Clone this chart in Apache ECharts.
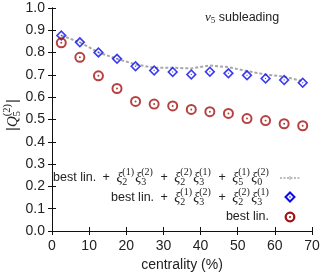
<!DOCTYPE html>
<html><head><meta charset="utf-8">
<script src="https://cdn.jsdelivr.net/npm/echarts@6/dist/echarts.min.js"></script>
<style>html,body{margin:0;padding:0;background:#fff}#c{width:324px;height:277px}</style>
</head><body><div id="c"></div>
<script>
const centrality = [2.5,7.5,12.5,17.5,22.5,27.5,32.5,37.5,42.5,47.5,52.5,57.5,62.5,67.5];
const fullLin =   [0.877,0.846,0.801,0.772,0.747,0.732,0.732,0.729,0.742,0.735,0.717,0.702,0.692,0.672];
const twoTerms =  [0.877,0.846,0.801,0.772,0.739,0.720,0.713,0.702,0.714,0.707,0.698,0.684,0.677,0.665];
const bestLin =   [0.844,0.779,0.696,0.639,0.581,0.569,0.561,0.545,0.535,0.527,0.504,0.495,0.481,0.472];
const xTicks = [0,10,20,30,40,50,60,70];
const yTicks = [0.0,0.1,0.2,0.3,0.4,0.5,0.6,0.7,0.8,0.9,1.0];

const SANS = '"Liberation Sans", Arial, sans-serif';
const SERIF = '"Liberation Serif", "DejaVu Serif", serif';
const TXT = '#222';
const BLUE = '#0b0bee';
const RED = '#a21212';
const GRAY = '#a8a8a8';

const cv = document.createElement('canvas').getContext('2d');
function mw(t, f){ cv.font = f; return cv.measureText(t).width; }

function layoutLine(parts, align, opts){
  const items = [];
  let total = 0;
  const widths = parts.map(p => {
    if (p.t !== undefined) return mw(p.t, p.f) + 2*(p.pad||0);
    const wb = mw(p.b, p.bf);
    const ws = Math.max(p.sub ? mw(p.sub, p.sf) : 0, p.sup ? mw(p.sup, p.sf) : 0);
    return wb + ws + (p.after||0);
  });
  widths.forEach(w => total += w);
  let x = align === 'right' ? -total : (align === 'center' ? -total/2 : 0);
  parts.forEach((p, i) => {
    if (p.t !== undefined) {
      items.push({type:'text', x:x+(p.pad||0), y:0, style:{text:p.t, font:p.f, fill:TXT, align:'left', verticalAlign:'middle'}});
    } else {
      const wb = mw(p.b, p.bf);
      items.push({type:'text', x:x, y:0, style:{text:p.b, font:p.bf, fill:TXT, align:'left', verticalAlign:'middle'}});
      if (p.sup) items.push({type:'text', x:x+wb+(p.supDx||0), y:opts.supDy, style:{text:p.sup, font:p.sf, fill:TXT, align:'left', verticalAlign:'middle'}});
      if (p.sub) items.push({type:'text', x:x+wb, y:opts.subDy, style:{text:p.sub, font:p.sf, fill:TXT, align:'left', verticalAlign:'middle'}});
    }
    x += widths[i];
  });
  return items;
}

const LF = '12.5px ' + SANS;
const XF = 'italic 14px ' + SERIF;
const SF = '10px ' + SERIF;
function xi(sub, sup){ return {b:'\u03BE', bf:XF, sub:sub, sup:sup, sf:SF, after:1.2}; }
const plus = {t:' + ', f:LF, pad:3};

const row1 = [{t:'best lin.', f:LF}, plus, xi('2','(1)'), xi('3','(2)'), plus, xi('2','(2)'), xi('3','(1)'), plus, xi('5','(1)'), xi('0','(2)')];
const row2 = [{t:'best lin.', f:LF}, plus, xi('2','(1)'), xi('3','(2)'), plus, xi('2','(2)'), xi('3','(1)')];
const row3 = [{t:'best lin.', f:LF}];
const scriptOpts = {supDy:-6, subDy:4};

const titleParts = [{b:'v', bf:'italic 13px ' + SERIF, sub:'5', sf:'9px ' + SERIF}, {t:' subleading', f:LF}];
const yNameParts = [{t:'|', f:'15px ' + SANS}, {b:'Q', bf:'italic 15px ' + SERIF, sub:'5', sup:'(2)', sf:'10.5px ' + SERIF, after:1}, {t:'|', f:'15px ' + SANS}];

const ringPath = 'path://M10,0 A10,10 0 1,1 10,20 A10,10 0 1,1 10,0 Z M10,3.6 A6.4,6.4 0 1,0 10,16.4 A6.4,6.4 0 1,0 10,3.6 Z M10,8.2 A1.8,1.8 0 1,1 10,11.8 A1.8,1.8 0 1,1 10,8.2 Z';
const diamPath = 'path://M10,0 L20,10 L10,20 L0,10 Z M10,4.2 L4.2,10 L10,15.8 L15.8,10 Z M10,8.6 L11.4,10 L10,11.4 L8.6,10 Z';

const chart = echarts.init(document.getElementById('c'), null, {renderer:'canvas'});
const axisLine = {show:true, lineStyle:{color:'#111', width:1}};
const tick = {show:true, inside:true, length:4, lineStyle:{color:'#111'}};
const option = {
  animation:false,
  grid:{left:52, right:12, top:8, bottom:44, containLabel:false},
  xAxis:[{
    type:'value', min:xTicks[0], max:xTicks[xTicks.length-1], interval:10,
    axisLine:axisLine, axisTick:tick,
    axisLabel:{color:TXT, fontSize:14, fontFamily:SANS, margin:8},
    splitLine:{show:false},
    name:'centrality (%)', nameLocation:'middle', nameGap:27,
    nameTextStyle:{color:TXT, fontSize:14, fontFamily:SANS}
  },{
    type:'value', position:'top', min:xTicks[0], max:xTicks[xTicks.length-1], interval:10,
    axisLine:axisLine, axisTick:tick, axisLabel:{show:false}, splitLine:{show:false}
  }],
  yAxis:[{
    type:'value', min:yTicks[0], max:yTicks[yTicks.length-1], interval:0.1,
    axisLine:axisLine, axisTick:tick,
    axisLabel:{color:TXT, fontSize:14, fontFamily:SANS, margin:7, formatter:v => v.toFixed(1)},
    splitLine:{show:false}
  },{
    type:'value', position:'right', min:yTicks[0], max:yTicks[yTicks.length-1], interval:0.1,
    axisLine:axisLine, axisTick:tick, axisLabel:{show:false}, splitLine:{show:false}
  }],
  series:[
    {type:'line', name:'full', data:centrality.map((c,i)=>[c, fullLin[i]]), symbol:'none',
     lineStyle:{color:GRAY, width:2, type:[3,2]}, z:2},
    {type:'scatter', name:'two', data:centrality.map((c,i)=>[c, twoTerms[i]]), symbol:diamPath, symbolSize:11,
     itemStyle:{color:BLUE}, z:3},
    {type:'scatter', name:'best', data:centrality.map((c,i)=>[c, bestLin[i]]), symbol:ringPath, symbolSize:11,
     itemStyle:{color:RED}, z:4}
  ],
  graphic:[
    {type:'group', x:270, y:178, children:layoutLine(row1, 'right', scriptOpts)},
    {type:'group', x:270, y:198, children:layoutLine(row2, 'right', scriptOpts)},
    {type:'group', x:269, y:217, children:layoutLine(row3, 'right', scriptOpts)},
    {type:'group', x:205, y:18, children:layoutLine(titleParts, 'left', {supDy:-5, subDy:3})},
    {type:'group', x:13, y:115, rotation:Math.PI/2, children:layoutLine(yNameParts, 'center', {supDy:-6, subDy:4})},
    {type:'line', shape:{x1:280, y1:178, x2:300, y2:178}, style:{stroke:GRAY, lineWidth:1.5, lineDash:[2,1.5]}},
    {type:'line', shape:{x1:290, y1:176, x2:290, y2:180}, style:{stroke:GRAY, lineWidth:1}},
    {type:'polygon', shape:{points:[[290,192.5],[294.5,197],[290,201.5],[285.5,197]]}, style:{fill:null, stroke:BLUE, lineWidth:2}},
    {type:'circle', shape:{cx:290, cy:197, r:0.8}, style:{fill:BLUE}},
    {type:'circle', shape:{cx:290, cy:217, r:4.3}, style:{fill:null, stroke:RED, lineWidth:2.3}},
    {type:'circle', shape:{cx:290, cy:217, r:1}, style:{fill:RED}}
  ]
};
chart.setOption(option);
</script></body></html>
